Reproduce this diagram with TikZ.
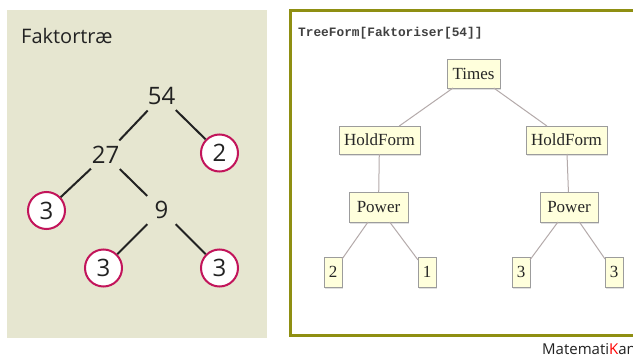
\documentclass[tikz,border=0pt]{standalone}
\usepackage{fontspec}
\setmainfont{Open Sans}
\newfontfamily\boxfont{Liberation Serif}
\newfontfamily\codefont{Liberation Mono}
\usetikzlibrary{shadows}
\definecolor{panelbg}{HTML}{E6E6D0}
\definecolor{ringred}{HTML}{C2145A}
\definecolor{olive}{HTML}{8F8F12}
\definecolor{boxfill}{HTML}{FFFFDC}
\definecolor{boxline}{HTML}{9C9C9C}
\definecolor{treeline}{HTML}{B4AAAA}
\definecolor{inkdark}{HTML}{222222}
\begin{document}
\begin{tikzpicture}[x=1pt,y=-1pt,
  num/.style={circle,minimum size=40pt,inner sep=0pt,outer sep=0pt,text=inkdark,
    font=\fontsize{24}{28}\selectfont},
  ring/.style={num,draw=ringred,line width=2pt,fill=white,minimum size=37pt,outer sep=1pt},
  fline/.style={draw=inkdark,line width=2pt},
  tbox/.style={draw=boxline,line width=0.8pt,fill=boxfill,inner sep=0pt,outer sep=0pt,
    minimum height=29pt,font=\boxfont\fontsize{17}{20}\selectfont,text=black!85,
    drop shadow={shadow xshift=0.8pt,shadow yshift=-1.5pt,fill=black!20,opacity=0.6}},
  tline/.style={draw=treeline,line width=1pt}]
\useasboundingbox (0,0) rectangle (633,356);
\clip (0,0) rectangle (633,356);
\fill[white] (0,0) rectangle (633,356);
% left panel
\fill[panelbg] (7,10) rectangle (267,338);
\node[anchor=base west,inner sep=0pt,text=inkdark,font=\fontsize{20}{24}\selectfont] (title) at (21,43) {Faktortræ};
\node[num] (n54) at (161.5,96) {54};
\node[num] (n27) at (105.5,155) {27};
\node[ring] (n2) at (219.5,153) {2};
\node[ring] (n3a) at (46.5,210.5) {3};
\node[num] (n9) at (161.5,210) {9};
\node[ring] (n3b) at (103.5,268) {3};
\node[ring] (n3c) at (219.5,268) {3};
\draw[fline] (n54) -- (n27);
\draw[fline] (n54) -- (n2);
\draw[fline] (n27) -- (n3a);
\draw[fline] (n27) -- (n9);
\draw[fline] (n9) -- (n3b);
\draw[fline] (n9) -- (n3c);
% right panel
\draw[olive,line width=2.8pt] (700,10.5) -- (290.5,10.5) -- (290.5,335.5) -- (700,335.5);
\node[anchor=base west,inner sep=0pt,font=\codefont\bfseries\fontsize{12.8}{14}\selectfont,text=black!75] (code) at (298,37) {TreeForm[Faktoriser[54]]};
\node[tbox,minimum width=53pt] (times) at (473.5,73.5) {Times};
\node[tbox,minimum width=81pt,minimum height=28pt] (hl) at (379.5,140) {HoldForm};
\node[tbox,minimum width=81pt,minimum height=28pt] (hr) at (566.5,140) {HoldForm};
\node[tbox,minimum width=59pt,minimum height=30pt] (pl) at (378.5,207) {Power};
\node[tbox,minimum width=58pt,minimum height=30pt] (pr) at (569,207) {Power};
\node[tbox,minimum width=18pt,minimum height=30pt] (la) at (333,272) {2};
\node[tbox,minimum width=18pt,minimum height=30pt] (lb) at (427,272) {1};
\node[tbox,minimum width=18pt,minimum height=30pt] (lc) at (521,272) {3};
\node[tbox,minimum width=18pt,minimum height=30pt] (ld) at (614,272) {3};
\draw[tline] (times) -- (hl);
\draw[tline] (times) -- (hr);
\draw[tline] (hl) -- (pl);
\draw[tline] (hr) -- (pr);
\draw[tline] (pl) -- (la);
\draw[tline] (pl) -- (lb);
\draw[tline] (pr) -- (lc);
\draw[tline] (pr) -- (ld);
% credit
\node[anchor=base west,inner sep=0pt,font=\fontsize{15}{18}\selectfont,text=inkdark] (credit) at (542,354) {Matemati\textcolor{red}{K}an};
\end{tikzpicture}
\end{document}
